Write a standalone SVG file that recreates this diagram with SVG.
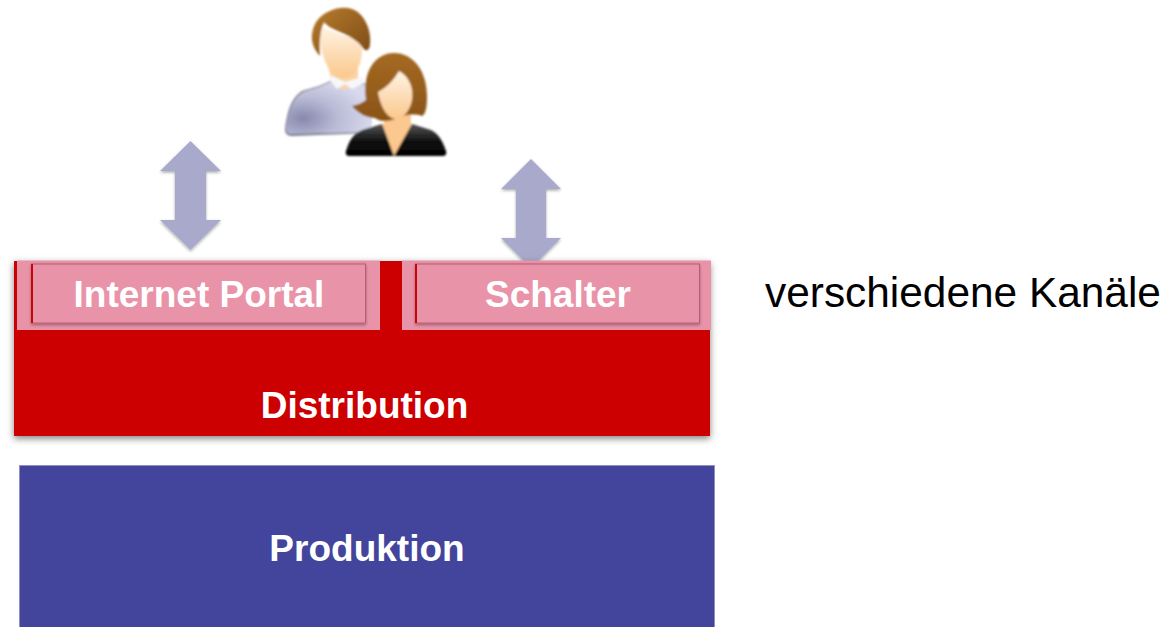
<svg xmlns="http://www.w3.org/2000/svg" width="1174" height="627" viewBox="0 0 1174 627">
<style>
text{font-family:"Liberation Sans",Arial,sans-serif}
.w{fill:#fff;font-weight:700;font-size:37px;text-anchor:middle}
.arrow{fill:#a9a9cb;filter:url(#soft)}
.inner{fill:#e993a9;stroke:#bb5a70;stroke-width:1;filter:url(#soft)}
</style>
<defs>
<filter id="soft" x="-20%" y="-20%" width="140%" height="140%"><feDropShadow dx="0" dy="1.500" stdDeviation="1.500" flood-color="#000" flood-opacity=".35"/></filter>
<filter id="shadow" x="-5%" y="-5%" width="110%" height="110%"><feDropShadow dx="0" dy="2.500" stdDeviation="3.500" flood-color="#000" flood-opacity=".5"/></filter>
<filter id="b1" x="-5%" y="-5%" width="110%" height="110%"><feGaussianBlur stdDeviation=".8"/></filter>
<radialGradient id="shirt" cx=".2" cy=".7" r=".8"><stop offset="0" stop-color="#8789ad"/><stop offset=".5" stop-color="#b9bbd6"/><stop offset="1" stop-color="#d8d9ec"/></radialGradient>
<linearGradient id="hair" x1="0" y1="0" x2="1" y2="1"><stop offset="0" stop-color="#b87c2c"/><stop offset="1" stop-color="#7c4a16"/></linearGradient>
<linearGradient id="hair2" x1="0" y1="0" x2="0" y2="1"><stop offset="0" stop-color="#a56a22"/><stop offset="1" stop-color="#8a5418"/></linearGradient>
<linearGradient id="skin" x1="0" y1="0" x2="0" y2="1"><stop offset="0" stop-color="#fff3e4"/><stop offset="1" stop-color="#fbc88c"/></linearGradient>
<linearGradient id="jacket" x1="0" y1="0" x2="0" y2="1"><stop offset="0" stop-color="#555"/><stop offset=".55" stop-color="#111"/><stop offset="1" stop-color="#000"/></linearGradient>
</defs>

<g id="users" filter="url(#b1)">
<g id="man">
<path d="M285 129C287 112 291 98 302 91C313 88 323 85 330 81L372 84L372 133L292 136C287 136 285 133 285 129Z" fill="#77778a"/>
<path d="M286 128C288 112 292 99 303 92C313 89 323 86 330 82L372 85L372 132L292 134C288 134 286 132 286 128Z" fill="url(#shirt)"/>
<path d="M328 66L358 66L358 84L344 90L332 84Z" fill="#fbd3a4"/>
<path d="M328 78L337 89L345 84L352 89L366 82L362 77L345 82L332 76Z" fill="#f7f7fb"/>
<path d="M320 26C318 52 328 77 343 78C357 78 364 62 362 40C350 38 334 32 320 26Z" fill="url(#skin)"/>
<path d="M320 56C312 48 309 36 315 24C322 11 340 5 352 9C364 13 372 30 370 45C369 52 365 51 363 48C358 41 350 36 340 32C333 29 327 26 324 22C320 30 319 44 320 56Z" fill="url(#hair)"/>
</g>
<g id="woman">
<path d="M346 151C349 141 353 134 362 130L382 124L412 124L431 130C439 134 443 142 446 151C447 155 445 156 442 156L350 156C347 156 345 155 346 151Z" fill="url(#jacket)"/>
<path d="M382 124L412 124L394 156Z" fill="#fbc48a"/>
<path d="M382 100L411 100L411 125L394 150L384 125Z" fill="#fbc890"/>
<path d="M352 106C358 105 362 103 366 100C362 72 375 53 394 53C414 53 427 72 427 96C427 106 426 114 422 116C414 113 405 115 398 118C388 122 380 122 375 118C366 118 358 113 352 106Z" fill="url(#hair2)"/>
<path d="M378 92C386 88 394 80 399 71C409 76 414 88 412 100C410 111 403 119 396 119C387 119 380 105 378 92Z" fill="url(#skin)"/>
</g>
</g>

<g id="connectors">
<path id="arrow-portal" class="arrow" d="M190.500 141L221 171L206 171L206 220L221 220L190.500 250L160 220L175 220L175 171L160 171Z"/>
<path id="arrow-schalter" class="arrow" d="M531 159L561 189L546 189L546 238L561 238L531 268L501 238L516 238L516 189L501 189Z"/>
</g>

<g id="distribution">
<rect x="14" y="261" width="696" height="175" fill="#cc0404" filter="url(#shadow)"/>
<path d="M17 260.500H380V330H17ZM402 260.500H711V330H402Z" fill="#e993a9"/>
<text class="w" x="364.500" y="418">Distribution</text>
</g>

<g id="portal">
<rect class="inner" x="31.500" y="264" width="334" height="59"/>
<rect x="31" y="264" width="2" height="59" fill="#cc0404"/>
<text class="w" x="199" y="307">Internet Portal</text>
</g>

<g id="schalter">
<rect class="inner" x="415.500" y="264" width="284" height="59"/>
<rect x="415" y="264" width="2" height="59" fill="#cc0404"/>
<text class="w" x="558" y="307">Schalter</text>
</g>

<g id="produktion">
<rect x="19.500" y="465.500" width="695" height="170" fill="#43449b" stroke="#8f90c0" stroke-width="1"/>
<text class="w" x="367" y="561">Produktion</text>
</g>

<g id="kanaele">
<text x="765" y="307" font-size="42.400" fill="#000">verschiedene Kanäle</text>
</g>
</svg>
